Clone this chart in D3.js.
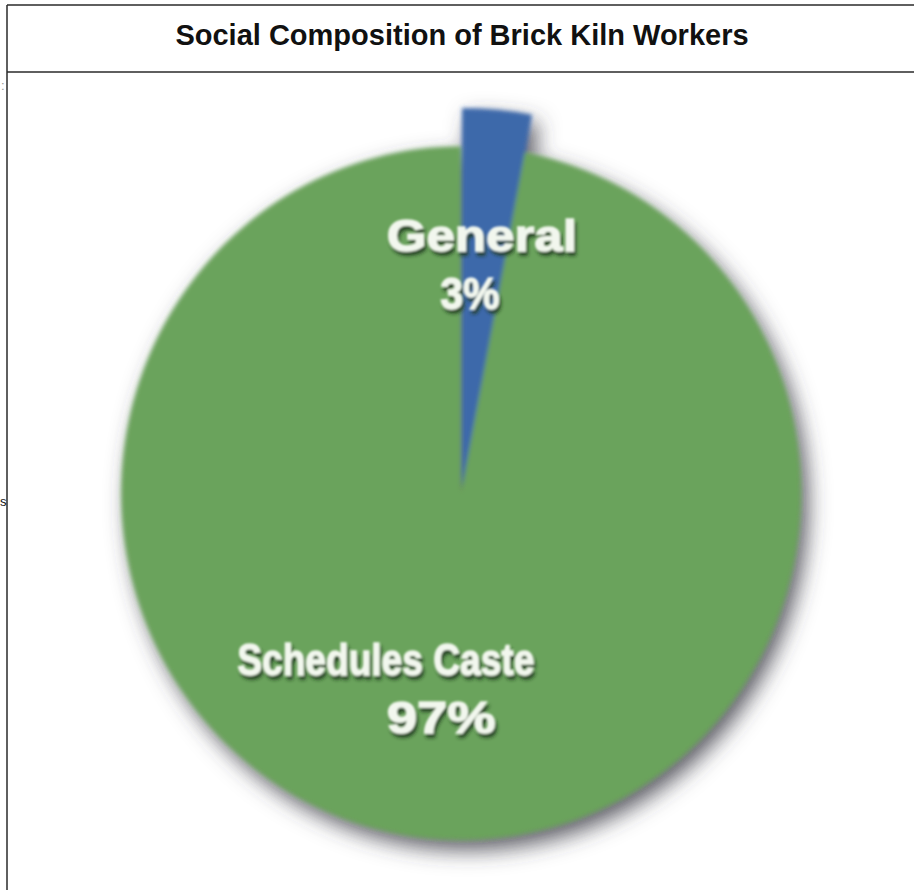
<!DOCTYPE html>
<html>
<head>
<meta charset="utf-8">
<script src="https://cdn.jsdelivr.net/npm/d3@7"></script>
<style>
    body { margin: 0; background: #ffffff; }
    text { font-family: "Liberation Sans", Arial, Helvetica, sans-serif; }
</style>
</head>
<body>
<div id="chart"></div>
<script>
// data
const categories = ["General", "Schedules Caste"];
const shares = [3, 97];
const percentLabels = ["3%", "97%"];
const title = "Social Composition of Brick Kiln Workers";

const colors = d3.scaleOrdinal()
    .domain(categories)
    .range(["#3d69aa", "#6aa35b"]);

const svgWidth = 914;
const svgHeight = 890;

let svg = d3.select("#chart").append("svg")
    .attr("width", svgWidth)
    .attr("height", svgHeight);

let defs = svg.append("defs");

// soft shadow under the pie
let shadow = defs.append("filter")
    .attr("id", "pieShadow")
    .attr("x", "-20%").attr("y", "-20%")
    .attr("width", "140%").attr("height", "140%");
shadow.append("feGaussianBlur").attr("in", "SourceAlpha").attr("stdDeviation", 11).attr("result", "blur");
shadow.append("feOffset").attr("in", "blur").attr("dx", 7).attr("dy", 10).attr("result", "off");
shadow.append("feFlood").attr("flood-color", "#3a3a44").attr("flood-opacity", 0.85);
shadow.append("feComposite").attr("in2", "off").attr("operator", "in").attr("result", "sh");
let merge = shadow.append("feMerge");
merge.append("feMergeNode").attr("in", "sh");
merge.append("feMergeNode").attr("in", "SourceGraphic");

// the source image is a blurry upscale
let soft = defs.append("filter").attr("id", "soft");
soft.append("feGaussianBlur").attr("stdDeviation", 2.2);

// text shadow for labels
let txtShadow = defs.append("filter")
    .attr("id", "txtShadow")
    .attr("x", "-10%").attr("y", "-30%")
    .attr("width", "120%").attr("height", "160%");
txtShadow.append("feGaussianBlur").attr("in", "SourceAlpha").attr("stdDeviation", 1.5).attr("result", "b");
txtShadow.append("feOffset").attr("in", "b").attr("dx", 2).attr("dy", 4).attr("result", "o");
txtShadow.append("feFlood").attr("flood-color", "#1e3a1e").attr("flood-opacity", 0.9);
txtShadow.append("feComposite").attr("in2", "o").attr("operator", "in").attr("result", "s");
let tm = txtShadow.append("feMerge");
tm.append("feMergeNode").attr("in", "s");
tm.append("feMergeNode").attr("in", "SourceGraphic");
txtShadow.append("feGaussianBlur").attr("stdDeviation", 0.9);

// frame around chart (cell borders)
svg.append("line").attr("x1", 7).attr("y1", 5).attr("x2", svgWidth).attr("y2", 5)
    .attr("stroke", "#2a2a2a").attr("stroke-width", 1.5);
svg.append("line").attr("x1", 7).attr("y1", 72).attr("x2", svgWidth).attr("y2", 72)
    .attr("stroke", "#2a2a2a").attr("stroke-width", 1.5);
svg.append("line").attr("x1", 7).attr("y1", 5).attr("x2", 7).attr("y2", svgHeight)
    .attr("stroke", "#2a2a2a").attr("stroke-width", 1.5);

// bits of neighbouring text at the left edge
svg.append("text").attr("x", 0).attr("y", 506).text("s")
    .style("font-size", "13px").style("fill", "#111");
svg.append("text").attr("x", 1).attr("y", 90).text(":")
    .style("font-size", "13px").style("fill", "#999");

svg.append("text")
    .attr("x", 462)
    .attr("y", 45)
    .attr("text-anchor", "middle")
    .style("font-size", "29px")
    .style("font-weight", "bold")
    .style("fill", "#111")
    .text(title);

// pie
const cx = 461, cy = 493;
const radius = 343;

const pie = d3.pie().sort(null).value(d => d);
const arcs = pie(shares);

const arc = d3.arc().innerRadius(0).outerRadius(radius);
const bigArc = d3.arc().innerRadius(0).outerRadius(radius * 1.1);

let g = svg.append("g")
    .attr("transform", "translate(" + cx + "," + cy + ") scale(0.99,1.01)");

let pieG = g.append("g").attr("filter", "url(#pieShadow)");
let inner = pieG.append("g").attr("filter", "url(#soft)");

inner.selectAll("path")
    .data(arcs)
    .enter()
    .append("path")
    .attr("d", (d, i) => i === 0 ? bigArc(d) : arc(d))
    .attr("transform", (d, i) => i === 0 ? "translate(1,-4)" : null)
    .style("fill", (d, i) => colors(categories[i]));

// labels (placed by hand like the source)
const labelPos = [
    { x: 21, y1: -240, y2: -182 },
    { x: -76, y1: 180, y2: 238 }
];

let labelG = g.append("g").attr("filter", "url(#txtShadow)");

arcs.forEach((d, i) => {
    const p = labelPos[i];
    labelG.append("text")
        .attr("x", p.x)
        .attr("y", p.y1)
        .attr("text-anchor", "middle")
        .attr("textLength", i === 0 ? 192 : 300)
        .attr("lengthAdjust", "spacingAndGlyphs")
        .style("font-size", "44px")
        .style("font-weight", "bold")
        .style("fill", "#f2f7ee")
        .style("stroke", "#f2f7ee")
        .style("stroke-width", 1.3)
        .text(categories[i]);
    labelG.append("text")
        .attr("x", p.x + (i === 0 ? -12 : 56))
        .attr("y", p.y2)
        .attr("text-anchor", "middle")
        .attr("textLength", i === 0 ? 60 : 110)
        .attr("lengthAdjust", "spacingAndGlyphs")
        .style("font-size", "44px")
        .style("font-weight", "bold")
        .style("fill", "#f2f7ee")
        .style("stroke", "#f2f7ee")
        .style("stroke-width", 1.3)
        .text(percentLabels[i]);
});
</script>
</body>
</html>
